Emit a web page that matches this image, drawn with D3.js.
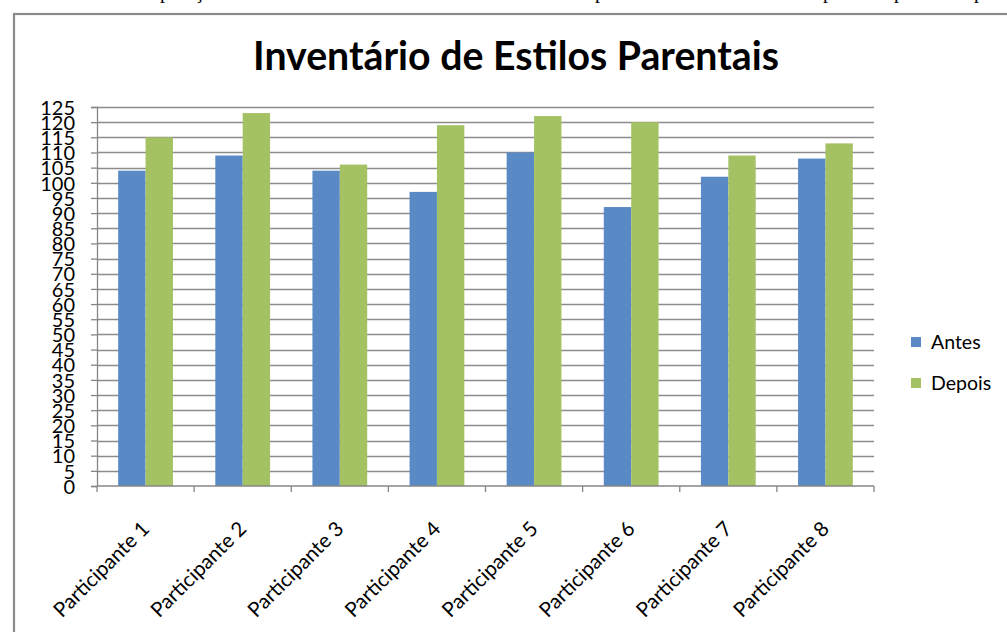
<!DOCTYPE html>
<html><head><meta charset="utf-8">
<script src="https://cdn.jsdelivr.net/npm/d3@7/dist/d3.min.js"></script>
<style>
html,body{margin:0;padding:0;background:#fff;overflow:hidden;}
svg{display:block;}
text{font-family:Lato,"Open Sans",sans-serif;fill:#000;}
</style></head>
<body>
<script>
const title = "Inventário de Estilos Parentais";
const categories = ["Participante 1","Participante 2","Participante 3","Participante 4","Participante 5","Participante 6","Participante 7","Participante 8"];
const seriesNames = ["Antes","Depois"];
const antes  = [104,109,104,97,110,92,102,108];
const depois = [115,123,106,119,122,120,109,113];
const yTicks = d3.range(0,126,5);
const colors = ["#5A8AC6","#A4C264"];

const W=1007,H=632;
const svg=d3.select("body").append("svg").attr("width",W).attr("height",H);

// cropped page text fragments above the chart frame
const frag = svg.append("g").style("font-size","20px");
frag.append("text").attr("x",160).attr("y",-2).text("paração").style("font-family","'Liberation Serif',serif");
[600,828,899,979].forEach(x=>frag.append("text").attr("x",x-5).attr("y",-2).text("p").style("font-family","'Liberation Serif',serif"));

// chart frame
svg.append("rect").attr("x",14).attr("y",14).attr("width",1100).attr("height",700)
  .attr("fill","none").attr("stroke","#8a8a8a").attr("stroke-width",2.2);

const plot={l:97,r:874,t:107,b:486};
const y=d3.scaleLinear().domain([0,125]).range([plot.b,plot.t]);
const x0=d3.scaleBand().domain(categories).range([plot.l,plot.r]).paddingInner(0).paddingOuter(0);
const bw=x0.bandwidth();
const x1=d3.scaleBand().domain(seriesNames).range([bw*0.218,bw*0.782]).padding(0);

// gridlines
svg.append("g").selectAll("line").data(yTicks.filter(d=>d>0)).join("line")
  .attr("x1",plot.l).attr("x2",plot.r).attr("y1",d=>Math.round(y(d))+0.5).attr("y2",d=>Math.round(y(d))+0.5)
  .attr("stroke","#8c8c8c").attr("stroke-width",1.3);

// bars
const data=categories.map((c,i)=>({c,vals:[antes[i],depois[i]]}));
const g=svg.append("g").selectAll("g").data(data).join("g").attr("transform",d=>`translate(${x0(d.c)},0)`);
g.selectAll("rect").data(d=>d.vals.map((v,j)=>({s:seriesNames[j],v,j}))).join("rect")
  .attr("x",d=>x1(d.s)).attr("width",x1.bandwidth())
  .attr("y",d=>y(d.v)).attr("height",d=>y(0)-y(d.v))
  .attr("fill",d=>colors[d.j]);

// y axis
const yAxis=d3.axisLeft(y).tickValues(yTicks).tickSize(6).tickPadding(16);
const ya=svg.append("g").attr("transform",`translate(${plot.l},0)`).call(yAxis);
ya.select(".domain").attr("stroke","#868686").attr("stroke-width",1.3);
ya.selectAll(".tick line").attr("stroke","#868686").attr("stroke-width",1.3);
ya.selectAll(".tick text").style("font-family","Lato,sans-serif").style("font-size","20px").attr("fill","#000").attr("dy","0.36em");

// x axis
const xa=svg.append("g").attr("transform",`translate(0,${plot.b})`);
xa.append("line").attr("x1",plot.l).attr("x2",plot.r).attr("y1",0).attr("y2",0).attr("stroke","#868686").attr("stroke-width",1.3);
const bounds=categories.map(c=>x0(c)).concat([plot.r]);
xa.selectAll("line.t").data(bounds).join("line").attr("class","t")
  .attr("x1",d=>d).attr("x2",d=>d).attr("y1",0).attr("y2",6).attr("stroke","#868686").attr("stroke-width",1.3);
xa.selectAll("text").data(categories).join("text")
  .attr("transform",d=>`translate(${x0(d)+bw/2+5},${44}) rotate(-45)`)
  .attr("text-anchor","end").style("font-size","20.5px").text(d=>d);

// title
const t=svg.append("text").attr("x",516).attr("y",70).attr("text-anchor","middle")
  .style("font-weight","bold").style("font-size","36px").text(title);
const tl=t.node().getComputedTextLength();
t.style("font-size",(36*526/tl)+"px");

// legend
const leg=svg.append("g");
seriesNames.forEach((s,i)=>{
  const yy=342+i*41;
  leg.append("rect").attr("x",911).attr("y",yy-5).attr("width",10).attr("height",10).attr("fill",colors[i]);
  leg.append("text").attr("x",931).attr("y",yy).attr("dy","0.36em").style("font-size","19.5px").text(s);
});
</script>
</body></html>
